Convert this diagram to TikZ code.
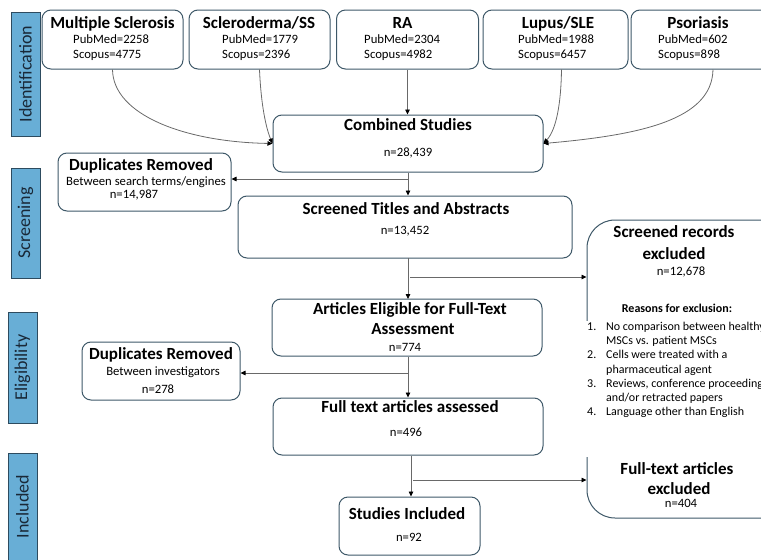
\documentclass[tikz,border=0pt]{standalone}
\usepackage{fontspec}
\setmainfont{Carlito}
\usetikzlibrary{arrows.meta}
\definecolor{bord}{RGB}{62,88,104}
\definecolor{barfill}{RGB}{104,174,214}
\definecolor{barline}{RGB}{45,75,95}
\definecolor{bartext}{RGB}{25,40,55}
\definecolor{lin}{RGB}{105,105,105}
\begin{document}
\begin{tikzpicture}[x=1pt,y=-1pt,
  box/.style={draw=bord,line width=1pt,rounded corners=9pt,inner sep=0pt},
  bigbox/.style={draw=bord,line width=1pt,rounded corners=28pt,inner sep=0pt},
  bar/.style={draw=barline,fill=barfill,line width=0.9pt,inner sep=0pt,minimum width=29pt},
  bartxt/.style={rotate=90,font=\fontsize{18}{21}\selectfont,text=bartext,inner sep=0pt},
  ttl/.style={font=\fontsize{17}{20}\selectfont\bfseries,inner sep=0pt,text height=11.5pt,text depth=3.5pt},
  sml/.style={font=\fontsize{12.7}{15}\selectfont,inner sep=0pt,text height=8.8pt,text depth=2.7pt},
  smlw/.style={sml,anchor=west},
  lst/.style={font=\fontsize{12}{14}\selectfont,inner sep=0pt,anchor=west,text height=8.5pt,text depth=2.6pt},
  rsn/.style={font=\fontsize{12}{14}\selectfont\bfseries,inner sep=0pt,text height=8.5pt,text depth=2.6pt},
  conn/.style={draw=lin,line width=0.8pt,-{Triangle[length=5pt,width=4.5pt,fill=black,color=black]}},
  plain/.style={draw=lin,line width=0.8pt}
]
\useasboundingbox (0,0) rectangle (761,560);
\clip (0,0) rectangle (761,560);

% phase bars
\node[bar,minimum height=124pt] (bid) at (25.5,74) {};
\node[bartxt] (tid) at (bid.center) {Identification};
\node[bar,minimum height=110pt] (bsc) at (25.5,223) {};
\node[bartxt] (tsc) at (bsc.center) {Screening};
\node[bar,minimum height=111pt] (bel) at (22.5,367.5) {};
\node[bartxt] (tel) at (bel.center) {Eligibility};
\node[bar,minimum height=122pt] (bin) at (22.5,514) {};
\node[bartxt] (tin) at (22.5,506.5) {Included};

% top source boxes
\node[box,minimum width=141pt,minimum height=59pt] (ms) at (112.5,39.5) {};
\node[ttl] (msT) at (112.5,24) {Multiple Sclerosis};
\node[smlw] (msP) at (73,40) {PubMed=2258};
\node[smlw] (msS) at (73,55) {Scopus=4775};

\node[box,minimum width=141pt,minimum height=59pt] (ss) at (259.5,39.5) {};
\node[ttl] (ssT) at (259,24) {Scleroderma/SS};
\node[smlw] (ssP) at (222,40) {PubMed=1779};
\node[smlw] (ssS) at (222,55) {Scopus=2396};

\node[box,minimum width=142pt,minimum height=59pt] (ra) at (407.5,39.5) {};
\node[ttl] (raT) at (402.5,24) {RA};
\node[smlw] (raP) at (364,40) {PubMed=2304};
\node[smlw] (raS) at (364,55) {Scopus=4982};

\node[box,minimum width=145pt,minimum height=59pt] (lu) at (555.5,39.5) {};
\node[ttl] (luT) at (558,24) {Lupus/SLE};
\node[smlw] (luP) at (518,40) {PubMed=1988};
\node[smlw] (luS) at (518,55) {Scopus=6457};

\node[box,minimum width=164pt,minimum height=59pt] (ps) at (713,39.5) {};
\node[ttl] (psT) at (698,24) {Psoriasis};
\node[smlw] (psP) at (658,40) {PubMed=602};
\node[smlw] (psS) at (658,55) {Scopus=898};

% combined
\node[box,minimum width=270pt,minimum height=57pt] (comb) at (408,143.5) {};
\node[ttl] (combT) at (408,126) {Combined Studies};
\node[sml] (combN) at (408,153) {n=28,439};

% duplicates 1
\node[box,minimum width=173pt,minimum height=58pt] (dup1) at (144.5,182) {};
\node[ttl] (dup1T) at (141,166) {Duplicates Removed};
\node[sml] (dup1B) at (146,182) {Between search terms/engines};
\node[sml] (dup1N) at (134,195) {n=14,987};

% screened
\node[box,minimum width=334pt,minimum height=62pt] (scr) at (405,227) {};
\node[ttl] (scrT) at (406,210) {Screened Titles and Abstracts};
\node[sml] (scrN) at (405,231) {n=13,452};

% excluded big box
\node[bigbox,minimum width=213pt,minimum height=298pt] (excl) at (693.5,369) {};
\fill[white] (582,321) rectangle (761,457);
\node[ttl] (exT1) at (674,233) {Screened records};
\node[ttl] (exT2) at (674,255) {excluded};
\node[sml] (exN1) at (681,272) {n=12,678};
\node[rsn] (rsT) at (677,310) {Reasons for exclusion:};
\node[lst] (l1n) at (587,327.5) {1.};
\node[lst] (l1a) at (606,327.5) {No comparison between healthy};
\node[lst] (l1b) at (606,341.7) {MSCs vs. patient MSCs};
\node[lst] (l2n) at (587,355.9) {2.};
\node[lst] (l2a) at (606,355.9) {Cells were treated with a};
\node[lst] (l2b) at (606,370.1) {pharmaceutical agent};
\node[lst] (l3n) at (587,384.3) {3.};
\node[lst] (l3a) at (606,384.3) {Reviews, conference proceeding};
\node[lst] (l3b) at (606,398.5) {and/or retracted papers};
\node[lst] (l4n) at (587,412.7) {4.};
\node[lst] (l4a) at (606,412.7) {Language other than English};
\node[ttl] (exT3) at (677,470) {Full-text articles};
\node[ttl] (exT4) at (679,490) {excluded};
\node[sml] (exN2) at (681,504) {n=404};

% articles eligible
\node[box,minimum width=270pt,minimum height=57pt] (art) at (407,327.5) {};
\node[ttl] (artT1) at (410,310) {Articles Eligible for Full-Text};
\node[ttl] (artT2) at (413,330) {Assessment};
\node[sml] (artN) at (405,348) {n=774};

% duplicates 2
\node[box,minimum width=158pt,minimum height=58pt] (dup2) at (161,371) {};
\node[ttl] (dup2T) at (161,355) {Duplicates Removed};
\node[sml] (dup2B) at (163,372) {Between investigators};
\node[sml] (dup2N) at (158,390) {n=278};

% full text assessed
\node[box,minimum width=270pt,minimum height=57pt] (ft) at (408,426.5) {};
\node[ttl] (ftT) at (410,408) {Full text articles assessed};
\node[sml] (ftN) at (406,433) {n=496};

% studies included
\node[box,minimum width=141pt,minimum height=58pt] (inc) at (409.5,526) {};
\node[ttl] (incT) at (407,515) {Studies Included};
\node[sml] (incN) at (409,538) {n=92};

% connectors: sources to combined
\draw[conn] (ms.south) .. controls (113,115) and (185,142) .. (comb.west);
\draw[conn] (ss.south) .. controls (261,105) and (266,128) .. (comb.west);
\draw[conn] (ra.south) -- (ra.south |- comb.north);
\draw[conn] ([xshift=6pt]lu.south) .. controls (561,105) and (556,130) .. (comb.east);
\draw[conn] (ps.south) .. controls (712,120) and (640,135) .. (comb.east);

% main flow
\coordinate (b1) at (408,179);
\draw[conn] (comb.south) -- (comb.south |- scr.north);
\draw[conn] (b1) -- (b1 -| dup1.east);

\coordinate (b2) at (408,277);
\draw[conn] (408,258) -- (408,299);
\draw[conn] (410,277) -- (b2 -| excl.west);

\coordinate (b3) at (408,373);
\draw[conn] (art.south -| b3) -- (ft.north -| b3);
\draw[conn] (b3) -- (b3 -| dup2.east);

\coordinate (b4) at (413,480);
\draw[conn] (ft.south -| 411,0) -- (inc.north -| 411,0);
\draw[conn] (b4) -- (b4 -| excl.west);
\end{tikzpicture}
\end{document}
